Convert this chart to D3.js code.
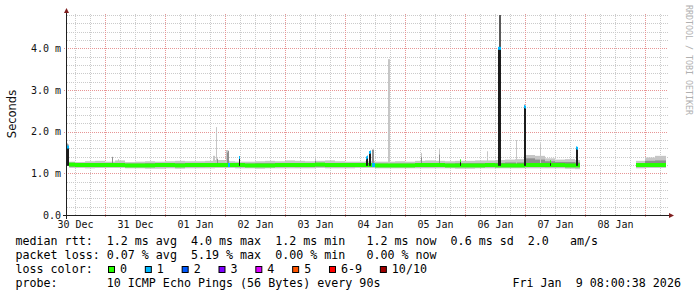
<!DOCTYPE html>
<html>
<head>
<meta charset="utf-8">
<script src="https://cdn.jsdelivr.net/npm/d3@7"></script>
<style>
  body { margin: 0; background: #fff; }
  text { font-family: "DejaVu Sans Mono", monospace; }
</style>
</head>
<body>
<svg id="graph" width="697" height="297"></svg>
<script>
var parseTime = d3.utcParse("%Y-%m-%d %H:%M");

// smoke consolidated in 4h rows (ms); a row with null closes a data run
var smokeTimes = [
  "2025-12-30 09:36", "2025-12-30 12:00", "2025-12-30 16:00", "2025-12-30 20:00",
  "2025-12-31 00:00", "2025-12-31 04:00", "2025-12-31 08:00", "2025-12-31 12:00", "2025-12-31 16:00", "2025-12-31 20:00",
  "2026-01-01 00:00", "2026-01-01 04:00", "2026-01-01 08:00", "2026-01-01 12:00", "2026-01-01 16:00", "2026-01-01 20:00",
  "2026-01-02 00:00", "2026-01-02 04:00", "2026-01-02 08:00", "2026-01-02 12:00", "2026-01-02 16:00", "2026-01-02 20:00",
  "2026-01-03 00:00", "2026-01-03 04:00", "2026-01-03 08:00", "2026-01-03 12:00", "2026-01-03 16:00", "2026-01-03 20:00",
  "2026-01-04 00:00", "2026-01-04 04:00", "2026-01-04 08:00", "2026-01-04 12:00", "2026-01-04 16:00", "2026-01-04 20:00",
  "2026-01-05 00:00", "2026-01-05 04:00", "2026-01-05 08:00", "2026-01-05 12:00", "2026-01-05 16:00", "2026-01-05 20:00",
  "2026-01-06 00:00", "2026-01-06 04:00", "2026-01-06 08:00", "2026-01-06 12:00", "2026-01-06 16:00", "2026-01-06 20:00",
  "2026-01-07 00:00", "2026-01-07 04:00", "2026-01-07 08:00", "2026-01-07 12:00", "2026-01-07 16:00", "2026-01-07 20:00",
  "2026-01-07 22:00",
  "2026-01-08 20:24", "2026-01-09 00:00", "2026-01-09 04:00",
  "2026-01-09 08:24"
];
var smokeMax = [
  1.28, 1.27, 1.29, 1.30,
  1.28, 1.31, 1.27, 1.28, 1.29, 1.28,
  1.29, 1.30, 1.29, 1.29, 1.30, 1.32,
  1.29, 1.28, 1.28, 1.29, 1.30, 1.29,
  1.31, 1.30, 1.29, 1.30, 1.31, 1.29,
  1.28, 1.28, 1.29, 1.28, 1.28, 1.29,
  1.28, 1.30, 1.31, 1.30, 1.29, 1.30,
  1.30, 1.31, 1.31, 1.32, 1.33, 1.34,
  1.44, 1.42, 1.36, 1.33, 1.34, 1.32,
  null,
  1.30, 1.38, 1.42,
  null
];
var smokeHigh = [
  1.24, 1.23, 1.24, 1.24,
  1.23, 1.25, 1.23, 1.23, 1.24, 1.23,
  1.24, 1.24, 1.23, 1.24, 1.24, 1.25,
  1.24, 1.23, 1.23, 1.24, 1.24, 1.23,
  1.24, 1.24, 1.23, 1.24, 1.24, 1.23,
  1.23, 1.23, 1.24, 1.23, 1.23, 1.23,
  1.23, 1.24, 1.24, 1.24, 1.23, 1.24,
  1.24, 1.24, 1.24, 1.25, 1.26, 1.26,
  1.36, 1.33, 1.29, 1.27, 1.27, 1.26,
  null,
  1.24, 1.30, 1.31,
  null
];
var smokeLow = [
  1.16, 1.16, 1.16, 1.15,
  1.16, 1.16, 1.15, 1.15, 1.15, 1.15,
  1.15, 1.15, 1.15, 1.15, 1.16, 1.16,
  1.16, 1.15, 1.15, 1.15, 1.15, 1.15,
  1.16, 1.15, 1.15, 1.16, 1.15, 1.15,
  1.15, 1.16, 1.16, 1.15, 1.15, 1.15,
  1.15, 1.15, 1.15, 1.16, 1.15, 1.15,
  1.15, 1.15, 1.15, 1.15, 1.15, 1.15,
  1.16, 1.16, 1.15, 1.15, 1.15, 1.15,
  null,
  1.15, 1.16, 1.16,
  null
];
var smokeMin = [
  1.13, 1.13, 1.12, 1.13,
  1.13, 1.13, 1.12, 1.12, 1.11, 1.11,
  1.12, 1.11, 1.12, 1.12, 1.12, 1.13,
  1.13, 1.12, 1.12, 1.11, 1.12, 1.12,
  1.12, 1.12, 1.12, 1.13, 1.12, 1.12,
  1.12, 1.13, 1.13, 1.12, 1.12, 1.12,
  1.12, 1.12, 1.12, 1.12, 1.12, 1.11,
  1.11, 1.12, 1.12, 1.12, 1.12, 1.12,
  1.12, 1.12, 1.12, 1.12, 1.11, 1.10,
  null,
  1.12, 1.13, 1.13,
  null
];
var medianRtt = [
  1.21, 1.20, 1.20, 1.20,
  1.20, 1.20, 1.19, 1.19, 1.19, 1.20,
  1.20, 1.19, 1.20, 1.20, 1.20, 1.20,
  1.20, 1.20, 1.19, 1.19, 1.19, 1.20,
  1.20, 1.20, 1.20, 1.21, 1.20, 1.20,
  1.20, 1.20, 1.20, 1.19, 1.19, 1.19,
  1.19, 1.20, 1.20, 1.20, 1.19, 1.19,
  1.19, 1.19, 1.20, 1.19, 1.19, 1.19,
  1.20, 1.20, 1.20, 1.20, 1.19, 1.19,
  null,
  1.20, 1.20, 1.20,
  null
];

// single 24 minute rows where the pings jumped
var spikeTimes = [
  "2025-12-30 08:48", "2025-12-30 09:12", "2025-12-31 02:48", "2025-12-31 05:12",
  "2026-01-01 19:12", "2026-01-01 19:36", "2026-01-01 20:24", "2026-01-01 20:48",
  "2026-01-02 00:24", "2026-01-02 00:48", "2026-01-02 01:12", "2026-01-02 01:36", "2026-01-02 05:36",
  "2026-01-03 12:00",
  "2026-01-04 08:24", "2026-01-04 08:48", "2026-01-04 09:36", "2026-01-04 10:00", "2026-01-04 10:48",
  "2026-01-04 11:12", "2026-01-04 11:36", "2026-01-04 17:12", "2026-01-04 17:36",
  "2026-01-05 06:24", "2026-01-05 13:36", "2026-01-05 22:00",
  "2026-01-06 08:48", "2026-01-06 13:12", "2026-01-06 13:36", "2026-01-06 14:00", "2026-01-06 20:24",
  "2026-01-06 23:36", "2026-01-07 00:00", "2026-01-07 06:00", "2026-01-07 10:00",
  "2026-01-07 20:24", "2026-01-07 20:48"
];
var spikeMax = [
  1.73, 1.70, 1.40, 1.34,
  1.42, 1.42, 2.11, 1.36,
  1.56, 1.56, 1.54, 1.30, 1.41,
  1.39,
  1.40, 1.42, 1.52, 1.54, 1.58,
  1.58, 1.30, 3.74, 3.74,
  1.49, 1.58, 1.32,
  1.53, 4.00, 4.80, 4.80, 1.80,
  2.66, 2.62, 1.72, 1.30,
  1.63, 1.62
];
var spikeInner = [
  1.70, 1.66, 1.39, null,
  null, null, null, 1.34,
  null, 1.50, 1.54, null, 1.39,
  1.30,
  1.38, 1.40, 1.51, 1.52, 1.56,
  1.56, null, null, null,
  1.39, 1.45, 1.31,
  null, 4.00, 4.80, 4.80, null,
  2.62, 2.60, null, 1.29,
  1.62, 1.61
];
var spikeMedian = [
  1.63, 1.63, 1.20, 1.20,
  1.20, 1.20, 1.20, 1.20,
  1.20, 1.20, 1.20, 1.20, 1.38,
  1.20,
  1.37, 1.39, 1.50, 1.51, 1.20,
  1.20, 1.20, 1.20, 1.20,
  1.20, 1.20, 1.30,
  1.20, 4.00, 4.00, 4.00, 1.20,
  2.60, 2.59, 1.20, 1.28,
  1.61, 1.60
];
var spikeLoss = [
  1, 1, 0, 0,
  0, 0, 0, 0,
  0, 0, 1, 1, 1,
  0,
  1, 1, 1, 1, 1,
  1, 1, 0, 0,
  0, 0, 0,
  0, 1, 1, 1, 0,
  1, 1, 0, 0,
  1, 1
];

var lossLabels = ["0", "1", "2", "3", "4", "5", "6-9", "10/10"];
var lossColors = ["#26ff00", "#00b8ff", "#0059ff", "#7e00ff", "#dd00ff", "#ff5500", "#ff0000", "#a00000"];
var yTicks = [0, 1, 2, 3, 4];

var legendLines = [
  "median rtt:  1.2 ms avg  4.0 ms max  1.2 ms min   1.2 ms now  0.6 ms sd  2.0   am/s",
  "packet loss: 0.07 % avg  5.19 % max  0.00 % min   0.00 % now"
];
var probeLine = "probe:       10 ICMP Echo Pings (56 Bytes) every 90s";
var stampLine = "Fri Jan  9 08:00:38 2026";

function lossColor(loss) {
  if (loss <= 5) return lossColors[loss];
  if (loss < 10) return lossColors[6];
  return lossColors[7];
}

function drawGraph(svgID) {
  var svg = d3.select(svgID);

  var x = d3
    .scaleUtc()
    .domain([parseTime("2025-12-30 08:48"), parseTime("2026-01-09 08:48")])
    .range([67, 667]);
  var y = d3.scaleLinear().domain([0, 4.8]).range([215, 15]);

  drawGrid(svg, x, y);
  drawSmoke(svg, x, y);
  drawAxes(svg, x, y);
  drawLegend(svg);
}

function drawGrid(svg, x, y) {
  var grid = svg.append("g").attr("class", "grid");
  var t0 = x.domain()[0],
    t1 = x.domain()[1];

  var minorY = y.ticks(24).filter(function(v) {
    return v > 0 && Math.abs(v - Math.round(v)) > 1e-6;
  });
  var majorY = yTicks.filter(function(v) {
    return v > 0;
  });
  var minorX = d3.utcHour.every(6).range(t0, t1).filter(function(d) {
    return d.getUTCHours() !== 0;
  });
  var majorX = d3.utcDay.range(t0, t1);

  grid
    .selectAll("line.minor-y")
    .data(minorY)
    .enter()
    .append("line")
    .attr("x1", 67)
    .attr("x2", 668)
    .attr("y1", function(d) { return Math.round(y(d)) + 0.5; })
    .attr("y2", function(d) { return Math.round(y(d)) + 0.5; })
    .attr("stroke", "#cbcbcb")
    .attr("stroke-dasharray", "1,1");

  grid
    .selectAll("line.minor-x")
    .data(minorX)
    .enter()
    .append("line")
    .attr("x1", function(d) { return Math.round(x(d)) + 0.5; })
    .attr("x2", function(d) { return Math.round(x(d)) + 0.5; })
    .attr("y1", 14)
    .attr("y2", 215)
    .attr("stroke", "#cbcbcb")
    .attr("stroke-dasharray", "1,1");

  grid
    .selectAll("line.major-y")
    .data(majorY)
    .enter()
    .append("line")
    .attr("x1", 64)
    .attr("x2", 668)
    .attr("y1", function(d) { return Math.round(y(d)) + 0.5; })
    .attr("y2", function(d) { return Math.round(y(d)) + 0.5; })
    .attr("stroke", "#e79595")
    .attr("stroke-dasharray", "1,1");

  grid
    .selectAll("line.major-x")
    .data(majorX)
    .enter()
    .append("line")
    .attr("x1", function(d) { return Math.round(x(d)) + 0.5; })
    .attr("x2", function(d) { return Math.round(x(d)) + 0.5; })
    .attr("y1", 14)
    .attr("y2", 218)
    .attr("stroke", "#e79595")
    .attr("stroke-dasharray", "1,1");
}

function drawSmoke(svg, x, y) {
  var rows = [];
  smokeTimes.forEach(function(t, i) {
    if (smokeMax[i] == null || i + 1 >= smokeTimes.length) return;
    rows.push({
      start: parseTime(t),
      end: parseTime(smokeTimes[i + 1]),
      max: smokeMax[i],
      high: smokeHigh[i],
      low: smokeLow[i],
      min: smokeMin[i],
      median: medianRtt[i]
    });
  });

  var spikes = spikeTimes.map(function(t, i) {
    var start = parseTime(t);
    return {
      start: start,
      end: d3.utcMinute.offset(start, 24),
      max: spikeMax[i],
      inner: spikeInner[i],
      median: spikeMedian[i],
      loss: spikeLoss[i]
    };
  });

  var g = svg.append("g").attr("class", "smoke");

  function barX(d) { return x(d.start); }
  function barW(d) { return x(d.end) - x(d.start); }

  // outer pings
  g.selectAll("rect.outer")
    .data(rows)
    .enter()
    .append("rect")
    .attr("x", barX)
    .attr("width", barW)
    .attr("y", function(d) { return y(d.max); })
    .attr("height", function(d) { return y(d.min) - y(d.max); })
    .attr("fill", "#c6c6c6");

  // inner pings
  g.selectAll("rect.inner")
    .data(rows)
    .enter()
    .append("rect")
    .attr("x", barX)
    .attr("width", barW)
    .attr("y", function(d) { return y(d.high); })
    .attr("height", function(d) { return y(d.low) - y(d.high); })
    .attr("fill", "#8e8e8e");

  g.selectAll("rect.spike-outer")
    .data(spikes)
    .enter()
    .append("rect")
    .attr("x", barX)
    .attr("width", barW)
    .attr("y", function(d) { return y(d.max); })
    .attr("height", function(d) { return y(1.2) - y(d.max); })
    .attr("fill", "#c6c6c6");

  g.selectAll("rect.spike-inner")
    .data(spikes.filter(function(d) { return d.inner != null; }))
    .enter()
    .append("rect")
    .attr("x", barX)
    .attr("width", barW)
    .attr("y", function(d) { return y(d.inner); })
    .attr("height", function(d) { return y(1.2) - y(d.inner); })
    .attr("fill", function(d) { return d.inner > 3 ? "#5a5a5a" : "#8e8e8e"; });

  // median rtt, coloured by loss
  g.selectAll("rect.median")
    .data(rows)
    .enter()
    .append("rect")
    .attr("x", barX)
    .attr("width", barW)
    .attr("y", function(d) { return y(d.median) - 2; })
    .attr("height", 4)
    .attr("fill", lossColor(0));

  g.selectAll("rect.stem")
    .data(spikes.filter(function(d) { return d.median > 1.25; }))
    .enter()
    .append("rect")
    .attr("x", barX)
    .attr("width", barW)
    .attr("y", function(d) { return y(d.median); })
    .attr("height", function(d) { return y(1.18) - y(d.median); })
    .attr("fill", "#1c1c1c");

  g.selectAll("rect.cap")
    .data(spikes.filter(function(d) { return d.median > 1.25 || d.loss > 0; }))
    .enter()
    .append("rect")
    .attr("x", barX)
    .attr("width", barW)
    .attr("y", function(d) { return y(d.median) - (d.median > 1.25 ? 1.5 : 2); })
    .attr("height", function(d) { return d.median > 1.25 ? 3 : 4; })
    .attr("fill", function(d) { return lossColor(d.loss); });
}

function drawAxes(svg, x, y) {
  var t0 = x.domain()[0],
    t1 = x.domain()[1];

  var yAxis = svg
    .append("g")
    .attr("transform", "translate(67,0)")
    .call(
      d3
        .axisLeft(y)
        .tickValues(yTicks)
        .tickSize(0)
        .tickPadding(6)
        .tickFormat(function(d) {
          return d === 0 ? "0.0" : d.toFixed(1) + " m";
        })
    );
  yAxis.select(".domain").remove();
  yAxis
    .selectAll("text")
    .attr("font-family", "DejaVu Sans Mono")
    .attr("font-size", 10)
    .attr("fill", "#111");

  // day labels sit at noon
  var dayNoons = d3.utcDay.range(d3.utcDay.floor(t0), t1).map(function(d) {
    return d3.utcHour.offset(d, 12);
  }).filter(function(d) {
    return d < t1;
  });

  var xAxis = svg
    .append("g")
    .attr("transform", "translate(0,215)")
    .call(
      d3
        .axisBottom(x)
        .tickValues(dayNoons)
        .tickSize(0)
        .tickPadding(6)
        .tickFormat(d3.utcFormat("%d %b"))
    );
  xAxis.select(".domain").remove();
  xAxis
    .selectAll("text")
    .attr("font-family", "DejaVu Sans Mono")
    .attr("font-size", 10)
    .attr("fill", "#111");

  svg.append("line")
    .attr("x1", 63).attr("x2", 670)
    .attr("y1", 215.5).attr("y2", 215.5)
    .attr("stroke", "#1f1f1f");
  svg.append("line")
    .attr("x1", 66.5).attr("x2", 66.5)
    .attr("y1", 219).attr("y2", 11)
    .attr("stroke", "#1f1f1f");

  svg.append("path")
    .attr("d", "M64,13L69,13L66.5,8Z")
    .attr("fill", "#7f1f1f");
  svg.append("path")
    .attr("d", "M669,213L669,218L674,215.5Z")
    .attr("fill", "#7f1f1f");

  svg.append("text")
    .attr("transform", "translate(15.5,114) rotate(-90)")
    .attr("text-anchor", "middle")
    .style("font-family", "'DejaVu Sans'")
    .attr("font-size", 11.5)
    .attr("fill", "#111")
    .text("Seconds");

  svg.append("text")
    .attr("transform", "translate(685.5,5) rotate(90)")
    .attr("font-size", 8.3)
    .attr("fill", "#b0b0b0")
    .text("RRDTOOL / TOBI OETIKER");
}

function drawLegend(svg) {
  var lg = svg.append("g").attr("class", "legend").attr("font-size", 11.66).attr("fill", "#000");

  lg.selectAll("text.line")
    .data(legendLines)
    .enter()
    .append("text")
    .attr("x", 15.5)
    .attr("y", function(d, i) { return 245 + i * 14; })
    .style("white-space", "pre")
    .text(function(d) { return d; });

  lg.append("text").attr("x", 15.5).attr("y", 273).text("loss color:");

  var bx = 108;
  lossLabels.forEach(function(label, i) {
    lg.append("rect")
      .attr("x", bx + 0.5)
      .attr("y", 266.5)
      .attr("width", 6)
      .attr("height", 6)
      .attr("fill", lossColors[i])
      .attr("stroke", "#000");
    var t = lg.append("text").attr("x", bx + 12).attr("y", 273).text(label);
    bx = bx + 12 + t.node().getComputedTextLength() + 17.8;
  });

  lg.append("text")
    .attr("x", 15.5)
    .attr("y", 287)
    .style("white-space", "pre")
    .text(probeLine);
  lg.append("text")
    .attr("x", 512.5)
    .attr("y", 287)
    .style("white-space", "pre")
    .text(stampLine);
}

drawGraph("#graph");
</script>
</body>
</html>
